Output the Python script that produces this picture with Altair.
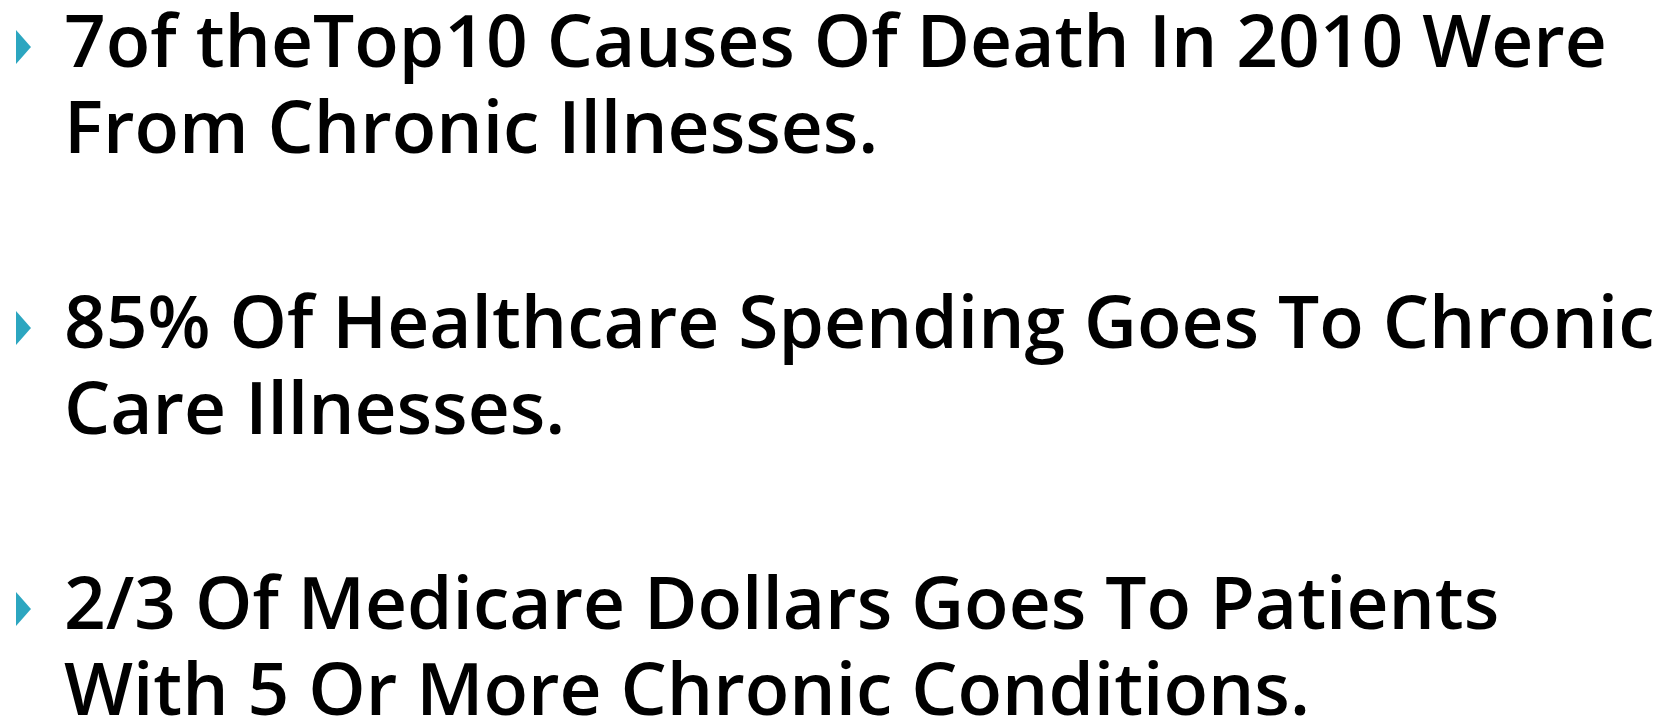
import altair as alt
import pandas as pd

# Slide content: one entry per bullet, each split into its visual lines
bullet_lines = [
    ["7of theTop10 Causes Of Death In 2010 Were", "From Chronic Illnesses."],
    ["85% Of Healthcare Spending Goes To Chronic", "Care Illnesses."],
    ["2/3 Of Medicare Dollars Goes To Patients", "With 5 Or More Chronic Conditions."],
]

TEXT_COLOR = "#000000"
BULLET_COLOR = "#2CA6C0"
FONT = "Open Sans"
FONT_SIZE = 73

# layout (view coordinates, page margin is 8px)
FIRST_BASELINE = 59
LINE_STEP = 86
PARA_STEP = 281
TEXT_X = 56
BULLET_X = 15.5
BULLET_RISE = 20

rows = []
bullets = []
for p, lines in enumerate(bullet_lines):
    base = FIRST_BASELINE + p * PARA_STEP
    bullets.append({"para": p, "bx": BULLET_X, "by": base - BULLET_RISE})
    for i, t in enumerate(lines):
        rows.append({"para": p, "line": i, "text": t, "tx": TEXT_X, "ty": base + i * LINE_STEP})

text_df = pd.DataFrame(rows)
bullet_df = pd.DataFrame(bullets)

text_layer = alt.Chart(text_df).mark_text(
    align="left", baseline="alphabetic", font=FONT, fontSize=FONT_SIZE,
    fontWeight=600, color=TEXT_COLOR
).encode(
    x=alt.X("tx:Q", scale=None, axis=None),
    y=alt.Y("ty:Q", scale=None, axis=None),
    text="text:N",
)

bullet_layer = alt.Chart(bullet_df).mark_point(
    shape="M -0.44 -1 L 0.44 0 L -0.44 1 Z", filled=True, size=1156,
    color=BULLET_COLOR, opacity=1, strokeWidth=0
).encode(
    x=alt.X("bx:Q", scale=None, axis=None),
    y=alt.Y("by:Q", scale=None, axis=None),
)

chart = alt.layer(bullet_layer, text_layer).properties(
    width=1659, height=709, padding=0, autosize="none", background="white"
).configure_view(stroke=None)

chart.save("out.html", embed_options={"renderer": "svg", "actions": False})
